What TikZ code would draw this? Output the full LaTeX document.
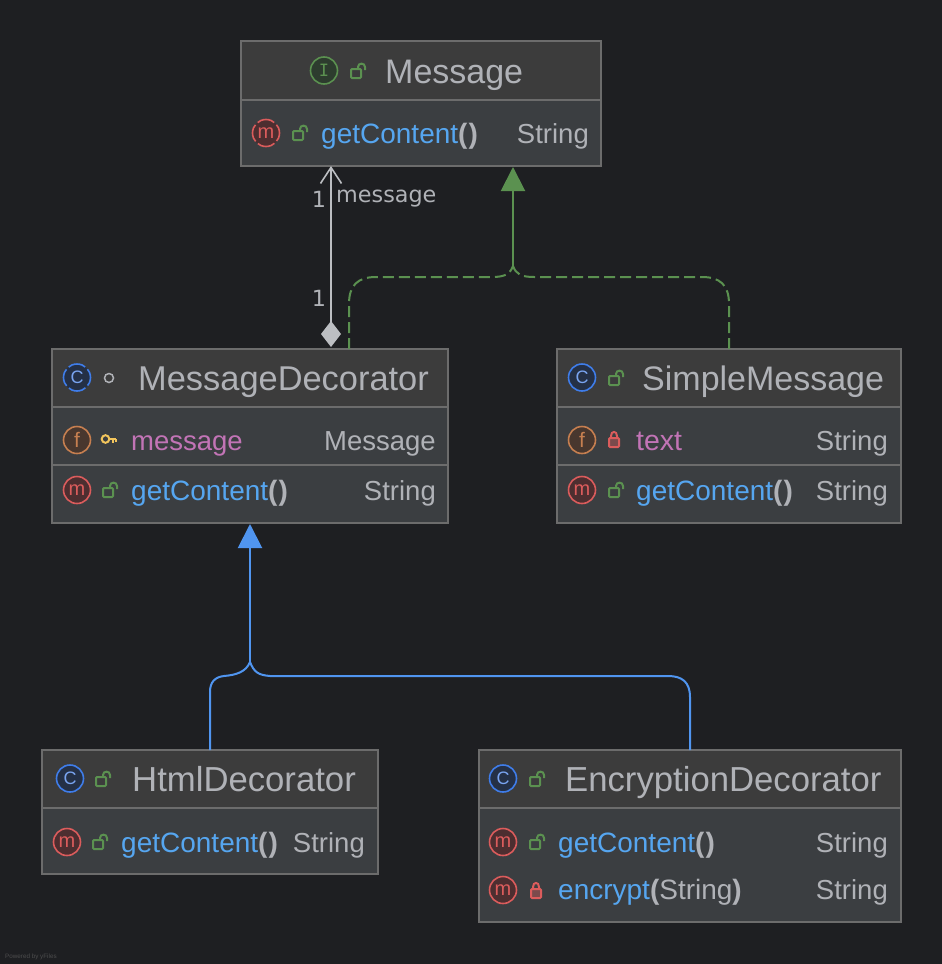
\documentclass[tikz,border=0pt]{standalone}
\usepackage{fontspec}
\setmainfont{Liberation Sans}
\newfontfamily\labelfont{DejaVu Sans}
\newfontfamily\iconmono{DejaVu Sans Mono}
\usetikzlibrary{arrows.meta, shapes.geometric}
\definecolor{uBack}{HTML}{1E1F22}
\definecolor{uHeadFill}{HTML}{3C3C3C}
\definecolor{uBodyFill}{HTML}{3B3E41}
\definecolor{uBorder}{HTML}{6C6C6C}
\definecolor{uText}{HTML}{B0B2B7}
\definecolor{uBlue}{HTML}{5095F0}
\definecolor{uMemberBlue}{HTML}{56A6F0}
\definecolor{uPink}{HTML}{C274B6}
\definecolor{uGreen}{HTML}{5B9150}
\definecolor{uRed}{HTML}{DB5C5C}
\definecolor{uOrange}{HTML}{C67F50}
\definecolor{uIconBlue}{HTML}{3F7DEA}
\definecolor{uYellow}{HTML}{F2C55C}
\newcommand{\uCall}{\textcolor{uText}{\textbf{(\kern1.2pt)}}}
\tikzstyle{uHead} = [rectangle, anchor=north west, inner sep=0pt, outer sep=0pt, draw=uBorder, line width=1.3pt, fill=uHeadFill]
\tikzstyle{uBody} = [rectangle, anchor=north west, inner sep=0pt, outer sep=0pt, draw=uBorder, line width=1.3pt, fill=uBodyFill]
\tikzstyle{uTitle} = [anchor=base west, inner sep=0pt, text=uText, font=\fontsize{34}{36}\selectfont]
\tikzstyle{uTitleWide} = [uTitle, font=\fontsize{34.7}{36}\selectfont]
\tikzstyle{uMember} = [anchor=base west, inner sep=0pt, text=uMemberBlue, font=\fontsize{28}{30}\selectfont]
\tikzstyle{uField} = [uMember, text=uPink, font=\fontsize{27.5}{30}\selectfont]
\tikzstyle{uType} = [anchor=base east, inner sep=0pt, text=uText, font=\fontsize{27.5}{30}\selectfont]
\tikzstyle{uIcon} = [circle, minimum size=27pt, inner sep=0pt, line width=1.6pt, font=\fontsize{20}{22}\selectfont]
\tikzstyle{uIconC} = [uIcon, draw=uIconBlue, fill=uIconBlue!18!uBack, text=uIconBlue!70!white, font=\fontsize{18}{20}\selectfont]
\tikzstyle{uIconI} = [uIcon, draw=uGreen, fill=uGreen!25!uBack, text=uGreen, font=\fontsize{17}{20}\iconmono]
\tikzstyle{uIconM} = [uIcon, draw=uRed, fill=uRed!25!uBack, text=uRed]
\tikzstyle{uIconF} = [uIcon, draw=uOrange, fill=uOrange!25!uBack, text=uOrange, font=\fontsize{21}{24}\selectfont]
\tikzstyle{uAbstract} = [dash pattern=on 18pt off 3.2pt, dash phase=9pt]
\tikzstyle{uPackage} = [circle, minimum size=9pt, inner sep=0pt, draw=uText, line width=1.5pt]
\tikzstyle{uLabel} = [inner sep=0pt, text=uText, font=\fontsize{22.3}{24}\labelfont]
\tikzstyle{uAssoc} = [line width=2pt, draw=uText!85!white, {Diamond[length=26pt,width=20pt,fill=uText!85!white]}-{Straight Barb[length=16pt,width=21pt,line width=1.6pt]}]
\tikzstyle{uRealize} = [line width=2pt, draw=uGreen]
\tikzstyle{uExtend} = [line width=2pt, draw=uBlue]
\tikzstyle{uInherit} = [-{Triangle[length=24pt,width=24pt]}]
\tikzset{
  pics/uOpenLock/.style={code={
    \draw [draw=uGreen, line width=2pt, rounded corners=1pt] (-7,-2) rectangle (3,7);
    \draw [draw=uGreen, line width=2pt] (0,-2) -- (0,-4) .. controls (0,-8.5) and (7,-8.5) .. (7,-4) -- (7,-1);
  }},
  pics/uClosedLock/.style={code={
    \draw [draw=uRed, fill=uRed!40!uBodyFill, line width=2pt, rounded corners=1pt] (-5,-1) rectangle (5,8);
    \draw [draw=uRed, line width=2pt] (-3,-1) -- (-3,-3) .. controls (-3,-8.5) and (3,-8.5) .. (3,-3) -- (3,-1);
  }},
  pics/uKey/.style={code={
    \draw [draw=uYellow, line width=2pt] (-3.5,0) circle (3.8);
    \draw [draw=uYellow, line width=2pt] (0.3,0) -- (7,0) (3.5,0) -- (3.5,3.5) (6.5,0) -- (6.5,2.5);
  }}
}
\begin{document}
\begin{tikzpicture}[x=1pt, y=-1pt]
    \useasboundingbox [fill=uBack] (0,0) rectangle (942,964);

    % Message
    \node (messageHead) [uHead, minimum width=360pt, minimum height=59pt] at (241,41) {};
    \node (messageBody) [uBody, minimum width=360pt, minimum height=66pt] at (241,100) {};
    \node (messageIcon) [uIconI] at (324,70.5) {I};
    \pic at (358,71) {uOpenLock};
    \node (messageTitle) [uTitle] at (385,83) {Message};
    \node (messageGetIcon) [uIconM, uAbstract] at (266,133) {m};
    \pic at (300,133) {uOpenLock};
    \node (messageGet) [uMember] at (321,143) {getContent\uCall};
    \node (messageGetType) [uType] at (589,143) {String};

    % MessageDecorator
    \node (decoratorHead) [uHead, minimum width=396pt, minimum height=58pt] at (52,349) {};
    \node (decoratorField) [uBody, minimum width=396pt, minimum height=58pt] at (52,407) {};
    \node (decoratorBody) [uBody, minimum width=396pt, minimum height=58pt] at (52,465) {};
    \node (decoratorIcon) [uIconC, uAbstract] at (77,377.5) {C};
    \node (decoratorPackage) [uPackage] at (109,378) {};
    \node (decoratorTitle) [uTitle, font=\fontsize{34.4}{36}\selectfont] at (138,390) {MessageDecorator};
    \node (decoratorFieldIcon) [uIconF] at (77,440) {f};
    \pic at (109,439) {uKey};
    \node (decoratorMessage) [uField] at (131,450) {message};
    \node (decoratorMessageType) [uType] at (436,450) {Message};
    \node (decoratorGetIcon) [uIconM] at (77,490) {m};
    \pic at (110,490) {uOpenLock};
    \node (decoratorGet) [uMember] at (131,500) {getContent\uCall};
    \node (decoratorGetType) [uType] at (436,500) {String};

    % SimpleMessage
    \node (simpleHead) [uHead, minimum width=344pt, minimum height=58pt] at (557,349) {};
    \node (simpleField) [uBody, minimum width=344pt, minimum height=58pt] at (557,407) {};
    \node (simpleBody) [uBody, minimum width=344pt, minimum height=58pt] at (557,465) {};
    \node (simpleIcon) [uIconC] at (582,377.5) {C};
    \pic at (616,378) {uOpenLock};
    \node (simpleTitle) [uTitle] at (642,390) {SimpleMessage};
    \node (simpleFieldIcon) [uIconF] at (582,440) {f};
    \pic at (614,439) {uClosedLock};
    \node (simpleText) [uField, font=\fontsize{28.5}{30}\selectfont] at (636,450) {text};
    \node (simpleTextType) [uType] at (888,450) {String};
    \node (simpleGetIcon) [uIconM] at (582,490) {m};
    \pic at (616,490) {uOpenLock};
    \node (simpleGet) [uMember] at (636,500) {getContent\uCall};
    \node (simpleGetType) [uType] at (888,500) {String};

    % HtmlDecorator
    \node (htmlHead) [uHead, minimum width=336pt, minimum height=58pt] at (42,750) {};
    \node (htmlBody) [uBody, minimum width=336pt, minimum height=66pt] at (42,808) {};
    \node (htmlIcon) [uIconC] at (70,778.5) {C};
    \pic at (103,779) {uOpenLock};
    \node (htmlTitle) [uTitleWide] at (132,791) {HtmlDecorator};
    \node (htmlGetIcon) [uIconM] at (67,842) {m};
    \pic at (100,842) {uOpenLock};
    \node (htmlGet) [uMember] at (121,852) {getContent\uCall};
    \node (htmlGetType) [uType] at (365,852) {String};

    % EncryptionDecorator
    \node (encryptionHead) [uHead, minimum width=422pt, minimum height=58pt] at (479,750) {};
    \node (encryptionBody) [uBody, minimum width=422pt, minimum height=114pt] at (479,808) {};
    \node (encryptionIcon) [uIconC] at (503,778.5) {C};
    \pic at (537,779) {uOpenLock};
    \node (encryptionTitle) [uTitleWide] at (565,791) {EncryptionDecorator};
    \node (encryptionGetIcon) [uIconM] at (503,842) {m};
    \pic at (537,842) {uOpenLock};
    \node (encryptionGet) [uMember] at (558,852) {getContent\uCall};
    \node (encryptionGetType) [uType] at (888,852) {String};
    \node (encryptionEncIcon) [uIconM] at (503,890) {m};
    \pic at (536,890) {uClosedLock};
    \node (encryptionEnc) [uMember] at (558,899) {encrypt\textcolor{uText}{\textbf{(}String\textbf{)}}};
    \node (encryptionEncType) [uType] at (888,899) {String};

    % connectors
    \coordinate (greenJoin) at (513,266);
    \coordinate (blueJoin) at (250,662);
    \draw [uAssoc] ([xshift=81pt,yshift=2pt]decoratorHead.north) -- ([xshift=-90pt]messageBody.south);
    \draw [uRealize, dash pattern=on 11pt off 5pt] ([xshift=99pt]decoratorHead.north) -- (349,304) .. controls (349,285) and (358,277) .. (376,277) -- (492,277) .. controls (505,277) and (510,274) .. (greenJoin);
    \draw [uRealize, dash pattern=on 11pt off 5pt] (simpleHead.north) -- (729,304) .. controls (729,285) and (720,277) .. (702,277) -- (534,277) .. controls (521,277) and (516,274) .. (greenJoin);
    \draw [uRealize, uInherit, fill=uGreen] (greenJoin) -- ([xshift=92pt,yshift=-1pt]messageBody.south);
    \draw [uExtend] (htmlHead.north) -- (210,692) .. controls (210,682) and (215,677) .. (224,676) .. controls (236,675) and (246,672) .. (blueJoin);
    \draw [uExtend] (encryptionHead.north) -- (690,697) .. controls (690,682) and (682,676) .. (668,676) -- (270,676) .. controls (258,675) and (254,672) .. (blueJoin);
    \draw [uExtend, uInherit, fill=uBlue] (blueJoin) -- ([yshift=-1pt]decoratorBody.south);

    % labels
    \node (assocOne) [uLabel] at (319,199) {1};
    \node (assocRole) [uLabel, anchor=west] at (336,199) {message};
    \node (assocOwner) [uLabel] at (319,298) {1};
    \node (poweredBy) [anchor=base west, inner sep=0pt, text=uBorder!60!uBack, font=\fontsize{6.3}{7}\selectfont] at (5,958) {Powered by yFiles};
\end{tikzpicture}
\end{document}
